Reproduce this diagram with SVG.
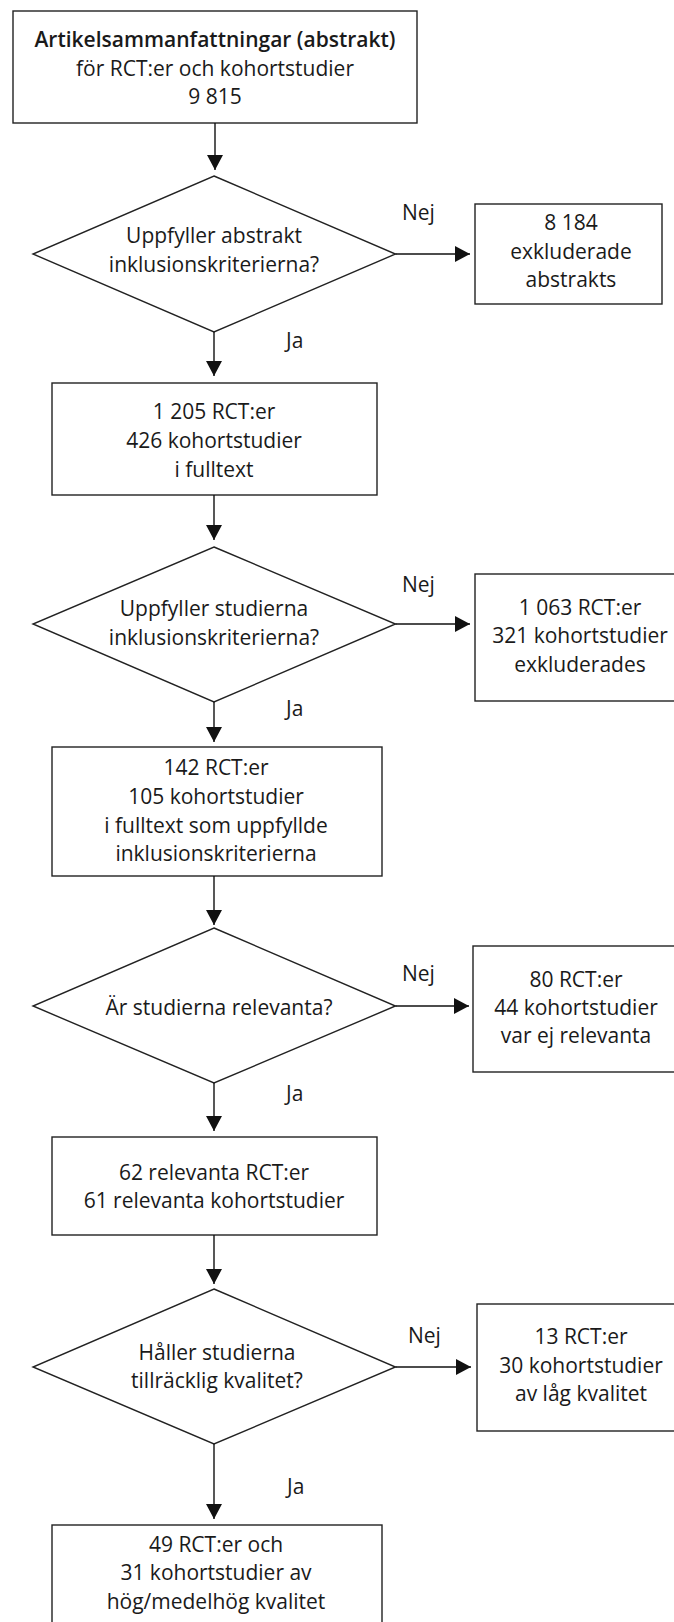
<svg xmlns="http://www.w3.org/2000/svg" width="674" height="1622" viewBox="0 0 674 1622">
<style>
.box{fill:#fff;stroke:#222;stroke-width:1.4}
.t{font-family:"Open Sans","Noto Sans","Liberation Sans",sans-serif;font-size:21px;fill:#1a1a1a;text-anchor:middle}
.b{font-weight:600}
.lbl{font-family:"Open Sans","Noto Sans","Liberation Sans",sans-serif;font-size:21px;fill:#1a1a1a}
.ln{stroke:#111;stroke-width:1.4;fill:none}
</style>
<defs>
<marker id="ah" markerUnits="userSpaceOnUse" markerWidth="16" markerHeight="16" viewBox="0 0 16 16" refX="15" refY="8" orient="auto">
<path d="M0,0 L15,8 L0,16 Z" fill="#111"/>
</marker>
</defs>
<rect width="674" height="1622" fill="#fff"/>

<g id="n1">
<rect class="box" x="13" y="11" width="404" height="112"/>
<text class="t b" x="215" y="47">Artikelsammanfattningar (abstrakt)</text>
<text class="t" x="215" y="76">för RCT:er och kohortstudier</text>
<text class="t" x="215" y="104">9 815</text>
</g>

<g id="d1">
<polygon class="box" points="214,176 395.5,254 214,332 33,254"/>
<text class="t" x="214" y="243">Uppfyller abstrakt</text>
<text class="t" x="214" y="272">inklusionskriterierna?</text>
</g>

<g id="x1">
<rect class="box" x="475" y="204" width="187" height="100"/>
<text class="t" x="571" y="230">8 184</text>
<text class="t" x="571" y="259">exkluderade</text>
<text class="t" x="571" y="287">abstrakts</text>
</g>

<g id="n2">
<rect class="box" x="52" y="383" width="325" height="112"/>
<text class="t" x="214" y="419">1 205 RCT:er</text>
<text class="t" x="214" y="448">426 kohortstudier</text>
<text class="t" x="214" y="477">i fulltext</text>
</g>

<g id="d2">
<polygon class="box" points="214,547 395.5,624 214,702 33,624"/>
<text class="t" x="214" y="616">Uppfyller studierna</text>
<text class="t" x="214" y="645">inklusionskriterierna?</text>
</g>

<g id="x2">
<rect class="box" x="475" y="574" width="220" height="127"/>
<text class="t" x="580" y="615">1 063 RCT:er</text>
<text class="t" x="580" y="643">321 kohortstudier</text>
<text class="t" x="580" y="672">exkluderades</text>
</g>

<g id="n3">
<rect class="box" x="52" y="747" width="330" height="129"/>
<text class="t" x="216" y="775">142 RCT:er</text>
<text class="t" x="216" y="804">105 kohortstudier</text>
<text class="t" x="216" y="833">i fulltext som uppfyllde</text>
<text class="t" x="216" y="861">inklusionskriterierna</text>
</g>

<g id="d3">
<polygon class="box" points="214,928 395.5,1006 214,1083 33,1006"/>
<text class="t" x="219" y="1015">Är studierna relevanta?</text>
</g>

<g id="x3">
<rect class="box" x="473" y="946" width="220" height="126"/>
<text class="t" x="576" y="987">80 RCT:er</text>
<text class="t" x="576" y="1015">44 kohortstudier</text>
<text class="t" x="576" y="1043">var ej relevanta</text>
</g>

<g id="n4">
<rect class="box" x="52" y="1137" width="325" height="98"/>
<text class="t" x="214" y="1180">62 relevanta RCT:er</text>
<text class="t" x="214" y="1208">61 relevanta kohortstudier</text>
</g>

<g id="d4">
<polygon class="box" points="214,1289 395.5,1367 214,1444 33,1367"/>
<text class="t" x="217" y="1360">Håller studierna</text>
<text class="t" x="217" y="1388">tillräcklig kvalitet?</text>
</g>

<g id="x4">
<rect class="box" x="477" y="1304" width="220" height="127"/>
<text class="t" x="581" y="1344">13 RCT:er</text>
<text class="t" x="581" y="1373">30 kohortstudier</text>
<text class="t" x="581" y="1401">av låg kvalitet</text>
</g>

<g id="n5">
<rect class="box" x="52" y="1525" width="330" height="120"/>
<text class="t" x="216" y="1552">49 RCT:er och</text>
<text class="t" x="216" y="1580">31 kohortstudier av</text>
<text class="t" x="216" y="1609">hög/medelhög kvalitet</text>
</g>

<g id="connectors">
<line class="ln" x1="215" y1="123" x2="215" y2="170" marker-end="url(#ah)"/>
<line class="ln" x1="214" y1="332" x2="214" y2="376" marker-end="url(#ah)"/>
<line class="ln" x1="214" y1="495" x2="214" y2="540" marker-end="url(#ah)"/>
<line class="ln" x1="214" y1="702" x2="214" y2="742" marker-end="url(#ah)"/>
<line class="ln" x1="214" y1="876" x2="214" y2="925" marker-end="url(#ah)"/>
<line class="ln" x1="214" y1="1083" x2="214" y2="1131" marker-end="url(#ah)"/>
<line class="ln" x1="214" y1="1235" x2="214" y2="1284" marker-end="url(#ah)"/>
<line class="ln" x1="214" y1="1444" x2="214" y2="1519" marker-end="url(#ah)"/>
<line class="ln" x1="395.5" y1="254" x2="470" y2="254" marker-end="url(#ah)"/>
<line class="ln" x1="395.5" y1="624" x2="470" y2="624" marker-end="url(#ah)"/>
<line class="ln" x1="395.5" y1="1006" x2="469" y2="1006" marker-end="url(#ah)"/>
<line class="ln" x1="395.5" y1="1367" x2="471" y2="1367" marker-end="url(#ah)"/>
<text class="lbl" x="402" y="220">Nej</text>
<text class="lbl" x="286" y="348">Ja</text>
<text class="lbl" x="402" y="592">Nej</text>
<text class="lbl" x="286" y="716">Ja</text>
<text class="lbl" x="402" y="981">Nej</text>
<text class="lbl" x="286" y="1101">Ja</text>
<text class="lbl" x="408" y="1343">Nej</text>
<text class="lbl" x="287" y="1494">Ja</text>
</g>
</svg>
